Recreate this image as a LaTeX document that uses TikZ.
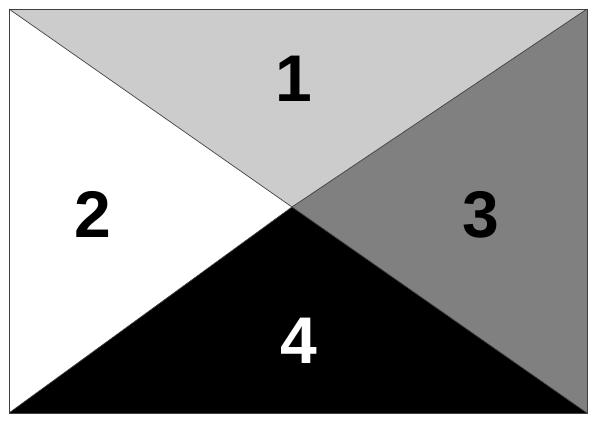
\documentclass[tikz,border=0pt]{standalone}
\usepackage{fontspec}
\setmainfont{Liberation Sans}
\definecolor{lgray}{HTML}{CCCCCC}
\definecolor{mgray}{HTML}{808080}
\definecolor{edge}{HTML}{404040}
\begin{document}
\begin{tikzpicture}[x=1pt,y=-1pt,
  tri/.style={draw=edge,line width=0.7pt,line join=miter},
  num/.style={font=\fontsize{66}{66}\bfseries\selectfont,inner sep=0pt,anchor=center}]
\useasboundingbox (0,0) rectangle (600,424);
\coordinate (TL) at (9,9);
\coordinate (TR) at (587,9);
\coordinate (BR) at (587,413);
\coordinate (BL) at (9,413);
\coordinate (C) at (292,207);
\fill[lgray] (TL) -- (TR) -- (C) -- cycle;
\fill[white] (TL) -- (C) -- (BL) -- cycle;
\fill[mgray] (TR) -- (BR) -- (C) -- cycle;
\fill[black] (BL) -- (C) -- (BR) -- cycle;
\draw[tri] (TL) -- (C) -- (BR);
\draw[tri] (BL) -- (C) -- (TR);
\draw[tri] (TL) rectangle (BR);
\node[num] (n1) at (294,79) {1};
\node[num] (n2) at (93,214) {2};
\node[num] (n3) at (481,215) {3};
\node[num,text=white] (n4) at (299,341) {4};
\end{tikzpicture}
\end{document}
